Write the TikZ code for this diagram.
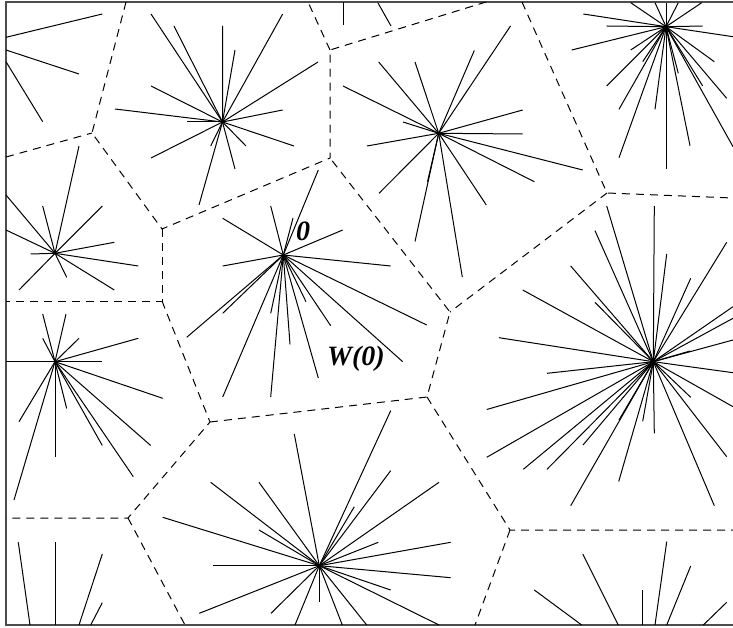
\documentclass[tikz,border=0pt]{standalone}
\usepackage{fontspec}
\setmainfont{Liberation Serif}
\usepackage{tikz}

\begin{document}
\begin{tikzpicture}[x=1pt, y=-1pt,
  ray/.style={line width=1pt},
  cell/.style={line width=1pt, dash pattern=on 8pt off 6pt},
  frame/.style={line width=1.3pt, black!70},
  lbl/.style={font=\fontsize{28}{30}\selectfont\bfseries\itshape, inner sep=0pt}]
  \useasboundingbox (0,0) rectangle (733,628);
  \draw[frame] (733,2) -- (6,2) -- (6,625) -- (733,625);
  % cell vertices
  \coordinate (va) at (92,133);
  \coordinate (vb) at (162,229);
  \coordinate (vc) at (162,301);
  \coordinate (vd) at (330,158);
  \coordinate (ve) at (330,50);
  \coordinate (vf) at (450,312);
  \coordinate (vg) at (607,193);
  \coordinate (vh) at (427,397);
  \coordinate (vi) at (210,422);
  \coordinate (vj) at (510,530);
  \coordinate (vk) at (128,518);
  \draw[cell] (126,2) -- (va) -- (vb) -- (vd) -- (ve) -- (486,2);
  \draw[cell] (6,157) -- (va);
  \draw[cell] (vb) -- (vc) -- (6,301);
  \draw[cell] (vc) -- (vi) -- (vk) -- (6,518);
  \draw[cell] (vi) -- (vh) -- (vf) -- (vd);
  \draw[cell] (ve) -- (308,2);
  \draw[cell] (522,2) -- (vg) -- (733,198);
  \draw[cell] (vg) -- (vf);
  \draw[cell] (vh) -- (vj) -- (733,530);
  \draw[cell] (vj) -- (475,625);
  \draw[cell] (vk) -- (185,625);
  % star centres
  \coordinate (s1) at (222.5,122);
  \coordinate (s2) at (283.3,255);
  \coordinate (s3) at (55,253.3);
  \coordinate (s4) at (55,361.7);
  \coordinate (s5) at (438.7,133.3);
  \coordinate (s6) at (666,26.7);
  \coordinate (s7) at (653.3,361.7);
  \coordinate (s8) at (319.3,565.7);
  \foreach \x/\y in {151/14, 174/26, 222.7/26, 235/50, 282.7/14, 318/62, 151/86, 115/109,
    187/122, 282.7/110, 294/146, 246/146, 210.7/146, 151/158, 235/169, 199/205}
    \draw[ray] (s1) -- (\x,\y);
  \foreach \x/\y in {270.7/206, 222.7/218.3, 318.3/170, 293/218, 342.7/230, 222.7/266,
    390.7/266, 186.7/337.3, 222.7/313.3, 222.7/397, 270.7/313.3, 270.7/397, 290/344.3,
    306/301.7, 318.3/378, 330.7/325.7, 426.7/325, 402.7/361.7}
    \draw[ray] (s2) -- (\x,\y);
  \foreach \x/\y in {79/146, 42.7/206, 102.3/206, 6/195, 6/230, 30.7/254, 114.3/242.3,
    138.3/266, 66.7/277.3, 114.3/290, 19/290}
    \draw[ray] (s3) -- (\x,\y);
  \foreach \x/\y in {42.7/314, 66/314, 42.7/338.3, 79/338.3, 138.3/338.3, 6/361.7,
    102.3/361.7, 162.7/398.3, 19/421.7, 66.7/408.5, 102.3/445.5, 150.7/445.5,
    133.3/476.7, 55/456.7, 14/500}
    \draw[ray] (s4) -- (\x,\y);
  \foreach \x/\y in {378.7/62, 415/62, 474.3/50.5, 510.5/26, 343/86, 403/122, 522.7/110,
    522.7/134, 367/146, 582.7/170, 534.3/181.7, 379/193.3, 486.3/205, 427.5/181.7,
    415/241.5, 462.3/277}
    \draw[ray] (s5) -- (\x,\y);
  \foreach \x/\y in {630.7/2.7, 655/2.7, 666/2.7, 678.3/2.7, 701.7/2.7, 583.3/14,
    606.7/26, 702.7/26, 733/36.7, 571.7/50, 630.7/50, 714.3/61.7, 642.7/61.7, 678.3/73.3,
    606.7/86, 702.7/86, 619/109.3, 655/109.3, 726.7/98.3, 619/157.7, 666/169.3,
    690/145.7, 733/146.7}
    \draw[ray] (s6) -- (\x,\y);
  \foreach \x/\y in {606.7/206, 654.3/206, 595/230.7, 666.7/254, 690.7/278.3, 726.7/242.3,
    570.7/266, 522.7/290, 595/302.3, 733/306.7, 733/318.3, 733/340, 690/351, 499/337.7,
    733/372.7, 547/373.3, 486.7/409.5, 733/406.7, 690.7/397.3, 654.3/433.3, 642.7/421.3,
    486.7/457.3, 523.3/469.3, 547/469.3, 583/445, 619/420, 570.7/505.7, 618.7/481.5,
    714.3/505.7, 726.7/456.7}
    \draw[ray] (s7) -- (\x,\y);
  \foreach \x/\y in {294.3/434, 390.7/410.7, 390.7/470.7, 210.7/482.3, 259/482.3,
    354.3/506.7, 439/482.3, 162.7/517.3, 259/530, 378.3/542.3, 450.7/542.3, 212.7/565.7,
    450.7/577.7, 390.7/590, 439/625, 199.3/613.3, 271/613.3, 319.3/601.7, 295/625,
    342.3/625, 366.7/625}
    \draw[ray] (s8) -- (\x,\y);
  % rays of centres outside the window
  \draw[ray] (6,37.3) -- (102.3,14);
  \draw[ray] (6,50) -- (79,74);
  \draw[ray] (6,61.7) -- (42.7,121.7);
  \draw[ray] (343,2) -- (343,25);
  \draw[ray] (378,3) -- (391,26);
  \draw[ray] (18.3,542.3) -- (30,625);
  \draw[ray] (55,542.3) -- (55,625);
  \draw[ray] (102.3,554) -- (79,625);
  \draw[ray] (102.3,602.7) -- (90.7,625);
  \draw[ray] (534.3,590) -- (581.7,625);
  \draw[ray] (582.7,554) -- (618.3,625);
  \draw[ray] (642.7,590) -- (642.7,625);
  \draw[ray] (666.7,541.7) -- (655,625);
  \draw[ray] (690.7,566) -- (666.7,625);
  \draw[ray] (726.7,602.3) -- (703.3,625);
  % labels
  \node[lbl] (zero) at (303,231) {0};
  \node[lbl] (wzero) at (356,359) {W(0)};
\end{tikzpicture}
\end{document}
